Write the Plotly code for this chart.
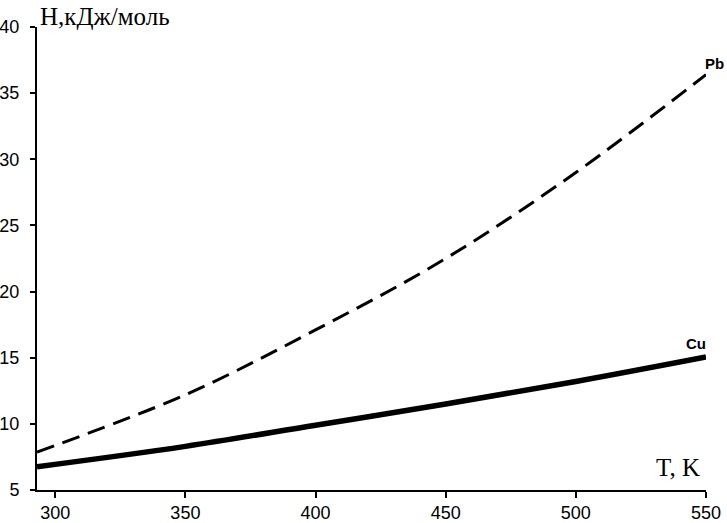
import plotly.graph_objects as go

T = [293, 350, 400, 450, 500, 550]
H_Pb = [7.87, 12.2, 17.1, 22.5, 29.0, 36.4]
H_Cu = [6.76, 8.3, 9.9, 11.5, 13.2, 15.05]
x_ticks = [300, 350, 400, 450, 500, 550]
y_ticks = [5, 10, 15, 20, 25, 30, 35, 40]

fig = go.Figure()
fig.add_trace(go.Scatter(x=T, y=H_Pb, mode="lines", line=dict(color="black", width=3, dash="18px,9px", shape="spline"), showlegend=False))
fig.add_trace(go.Scatter(x=T, y=H_Cu, mode="lines", line=dict(color="black", width=5.5, shape="spline"), showlegend=False))

fig.update_layout(
    width=727, height=523,
    margin=dict(l=37, r=21, t=27, b=33),
    paper_bgcolor="white", plot_bgcolor="white",
    font=dict(family="Liberation Sans, Arial", size=18, color="black"),
    xaxis=dict(range=[293, 550], tickvals=x_ticks, showgrid=False, zeroline=False, automargin=False,
               showline=True, linecolor="black", linewidth=1.5, ticks="outside",
               ticklen=6, tickcolor="black", tickwidth=1.5),
    yaxis=dict(range=[5, 40], tickvals=y_ticks, showgrid=False, zeroline=False, automargin=False,
               showline=True, linecolor="black", linewidth=2, ticks="outside",
               ticklen=5, tickcolor="black", tickwidth=1.5, ticklabelstandoff=7),
    annotations=[
        dict(text="H,кДж/моль", xref="paper", yref="paper", x=0.0, y=1.0, xanchor="left", yanchor="bottom",
             xshift=1, yshift=-5, showarrow=False, font=dict(family="Liberation Serif, Times New Roman", size=25)),
        dict(text="T, K", xref="paper", yref="paper", x=1.0, y=0.0, xanchor="right", yanchor="bottom",
             xshift=-4, yshift=7, showarrow=False, font=dict(family="Liberation Serif, Times New Roman", size=25)),
        dict(text="<b>Pb</b>", x=550, y=36.4, xanchor="left", yanchor="bottom", xshift=-3, yshift=1,
             showarrow=False, font=dict(size=15)),
        dict(text="<b>Cu</b>", x=550, y=15.05, xanchor="right", yanchor="bottom", xshift=2, yshift=3,
             showarrow=False, font=dict(size=15)),
    ],
)
fig.write_html("out.html", config={"displayModeBar": False},
               post_script="document.body.style.margin='0';document.body.style.overflow='hidden';")
